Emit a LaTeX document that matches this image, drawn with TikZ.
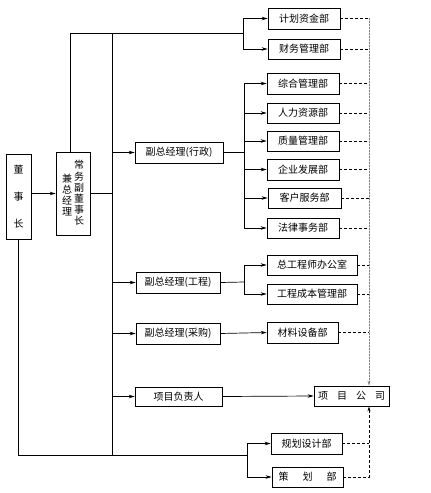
\documentclass[tikz,border=0pt]{standalone}
\usepackage{fontspec}
\setmainfont{Noto Sans CJK SC}
\usetikzlibrary{arrows.meta}
\begin{document}
\begin{tikzpicture}[x=1pt,y=-1pt,
  box/.style={draw, line width=0.7pt, minimum height=20pt, inner sep=0pt, align=center, font=\fontsize{10}{12}\selectfont},
  vtext/.style={inner sep=0pt, align=center, font=\fontsize{10}{11.2}\selectfont},
  ln/.style={line width=0.7pt},
  arr/.style={line width=0.7pt, -{Stealth[length=6pt,width=3.5pt]}},
  dsh/.style={line width=0.7pt, dash pattern=on 3pt off 2pt},
  dotv/.style={line width=0.8pt, gray, dash pattern=on 1.5pt off 1.5pt}]
\useasboundingbox (0,0) rectangle (431,493);
% left boxes
\node[box, minimum width=25pt, minimum height=85pt] (ds) at (18.5,196.5) {董\\[15pt]事\\[15pt]长};
\node[box, minimum width=34pt, minimum height=83pt] (cw) at (73,193.5) {};
\node[vtext] (cwa) at (79,193) {常\\务\\副\\董\\事\\长};
\node[vtext] (cwb) at (67,195) {兼\\总\\经\\理};
% vice managers
\node[box, minimum width=88pt, minimum height=21pt] (xz) at (179,152.5) {副总经理(行政)};
\node[box, minimum width=84pt, minimum height=21pt] (gc) at (178,282.5) {副总经理(工程)};
\node[box, minimum width=84pt, minimum height=21pt] (cg) at (178,333.5) {副总经理(采购)};
\node[box, minimum width=87pt, minimum height=19pt] (xm) at (178.5,396.5) {项目负责人};
% departments
\node[box, minimum width=72pt, minimum height=21pt] (jh) at (304,18.5) {计划资金部};
\node[box, minimum width=72pt] (cwb2) at (304,49) {财务管理部};
\node[box, minimum width=72pt, minimum height=21pt] (zh) at (303,83.5) {综合管理部};
\node[box, minimum width=72pt] (rl) at (303,113) {人力资源部};
\node[box, minimum width=72pt] (zl) at (303,141) {质量管理部};
\node[box, minimum width=72pt, minimum height=21pt] (qy) at (303,169.5) {企业发展部};
\node[box, minimum width=73pt] (kh) at (304.5,198) {客户服务部};
\node[box, minimum width=72pt] (fl) at (303,228) {法律事务部};
\node[box, minimum width=90pt] (zgc) at (312,265) {总工程师办公室};
\node[box, minimum width=90pt] (gccb) at (312,294) {工程成本管理部};
\node[box, minimum width=71pt, minimum height=21pt] (clsb) at (302.5,332.5) {材料设备部};
\node[box, minimum width=75pt] (xmgs) at (351.5,396) {项\hspace{9pt}目\hspace{9pt}公\hspace{9pt}司};
\node[box, minimum width=71pt, minimum height=21pt] (ghsj) at (306.5,443.5) {规划设计部};
\node[box, minimum width=71pt] (ch) at (307.5,477) {策\hspace{14pt}划\hspace{14pt}部};
% coordinates
\coordinate (t1) at (243,33);
\coordinate (b0) at (112,33);
\coordinate (b1) at (112,455);
\coordinate (c1) at (244,152.5);
\coordinate (c2) at (244,282);
\coordinate (c3) at (247,455);
\coordinate (vt) at (369,18);
% chairman to executive
\draw[arr] (ds.east |- cw.west) -- (cw.west);
% top branch
\draw[ln] ([xshift=-3pt]cw.north) |- (t1);
\draw[arr] (t1) |- (jh);
\draw[arr] (t1) |- (cwb2);
% main bus
\draw[ln] (b0) -- (b1);
\draw[ln] (cw.east) -- (cw.east -| b0);
\draw[arr] (xz.west -| b0) -- (xz.west);
\draw[arr] (gc.west -| b0) -- (gc.west);
\draw[arr] (cg.west -| b0) -- (cg.west);
\draw[arr] (xm.west -| b0) -- (xm.west);
% admin branch
\draw[ln] (xz.east) -- (c1);
\draw[ln] (c1 |- zh.west) -- (c1 |- fl.west);
\foreach \n in {zh,rl,zl,qy,kh,fl} \draw[arr] (c1 |- \n.west) -- (\n.west);
% engineering branch
\draw[ln] (gc.east) -- (c2);
\draw[ln] (c2 |- zgc.west) -- (c2 |- gccb.west);
\draw[arr] (c2 |- zgc.west) -- (zgc.west);
\draw[arr] (c2 |- gccb.west) -- (gccb.west);
% purchase
\draw[arr] (cg.east) -- (clsb.west);
% project
\draw[arr] (xm.east) -- (xmgs.west);
% bottom branch
\draw[ln] (ds.south) -- (ds.south |- c3) -- (c3);
\draw[arr] (c3) |- (ghsj);
\draw[arr] (c3) |- (ch);
% dashed links
\foreach \n in {jh,cwb2,zh,rl,zl,qy,kh,fl,zgc,gccb,clsb,ghsj} \draw[dsh] (\n.east) -- (\n.east -| vt);
\draw[dotv, -{Stealth[length=5pt,width=3pt]}, draw=gray, fill=black] (vt) -- (xmgs.north -| vt);
\draw[dsh, -{Stealth[length=5pt,width=3pt]}] (ch.east) -- (ch.east -| vt) -- (xmgs.south -| vt);
\end{tikzpicture}
\end{document}
